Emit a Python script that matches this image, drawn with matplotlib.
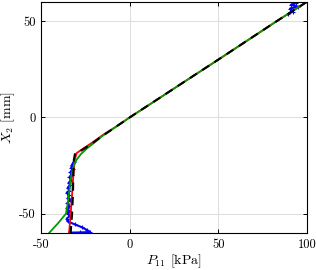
import matplotlib
matplotlib.use("Agg")
import matplotlib.pyplot as plt
import numpy as np

plt.rcParams['font.family'] = 'serif'
plt.rcParams['font.serif'] = ['cmr10', 'DejaVu Serif']
plt.rcParams['mathtext.fontset'] = 'cm'
plt.rcParams['axes.unicode_minus'] = False

# black dashed curve
y_black = [60, 50, 40, 30, 20, 10, 0, -5, -10, -14, -17, -18.5, -22, -30, -40, -50, -60]
x_black = [100, 83, 66.5, 50, 33.3, 16.7, 0, -8, -16, -22, -27, -30.8, -31.5, -31.8, -32, -32.5, -33.3]

# red curve
y_red = [60, 50, 40, 30, 20, 10, 0, -5, -9, -13, -16, -18.5, -22, -30, -40, -50, -60]
x_red = [100, 83, 66.5, 50, 33.3, 16.7, 0, -8, -15, -21, -26, -29.9, -31, -31.8, -32.5, -33.3, -34.2]

# green curve
y_green = [60, 50, 40, 30, 20, 10, 0, -5, -10, -12, -16, -19, -22, -25, -29, -33, -37.6, -45, -50, -55, -60]
x_green = [100, 83, 66.5, 50, 33.3, 16.7, 0, -8, -16, -18.5, -24, -27.5, -30, -31.5, -32.7, -33.4, -34, -35, -36, -40.5, -45.5]

# blue measured data (lower region and top corner)
y_blue = [-23, -24.5, -26, -27, -28.5, -30, -31, -32.5, -34, -35, -36.5, -38, -39, -40.5, -42, -43,
          -44.5, -46, -47, -48.5, -50, -51, -52.5, -54, -55.5, -57, -58.5, -59.5, -59.7, -59.8,
          np.nan, 53.5, 55, 56.5, 57.5, 58.5, 59.5, 60]
x_blue = [-31.5, -32.5, -33, -32, -33.5, -32.8, -34, -33, -34.5, -33.5, -35, -34, -35.5, -34.2, -35, -33.8,
          -35.2, -34, -35.5, -34.5, -35, -33.5, -35.5, -35, -31, -27, -24, -22.4, -28, -34,
          np.nan, 89.3, 92, 90.5, 95, 91, 94, 93]

fig = plt.figure(figsize=(3.16, 2.70), dpi=100)
ax = fig.add_axes([0.13, 0.137, 0.841, 0.856])

ax.plot(x_blue, y_blue, color='blue', lw=1.5, marker='+', ms=3.5, mew=0.8)
ax.plot(x_red, y_red, color='red', lw=1.3)
ax.plot(x_green, y_green, color=(0.0, 0.6, 0.0), lw=1.3)
ax.plot(x_black, y_black, color='black', lw=1.5, ls=(0, (4, 3)))

ax.set_xlim(-50, 100)
ax.set_ylim(-60, 60)
ax.set_xticks([-50, 0, 50, 100])
ax.set_yticks([-50, 0, 50])
ax.grid(True, color='#dddddd', lw=0.7)
ax.set_axisbelow(True)
ax.tick_params(direction='in', top=True, right=True, labelsize=9, length=3, width=0.7, pad=4)
for s in ax.spines.values():
    s.set_linewidth(0.8)

ax.set_xlabel(r'$P_{11}$ [kPa]', fontsize=10)
ax.set_ylabel(r'$X_2$ [mm]', fontsize=10)
ax.xaxis.set_label_coords(0.5, -0.085)
ax.yaxis.set_label_coords(-0.092, 0.5)

fig.savefig('out.png', dpi=100)
